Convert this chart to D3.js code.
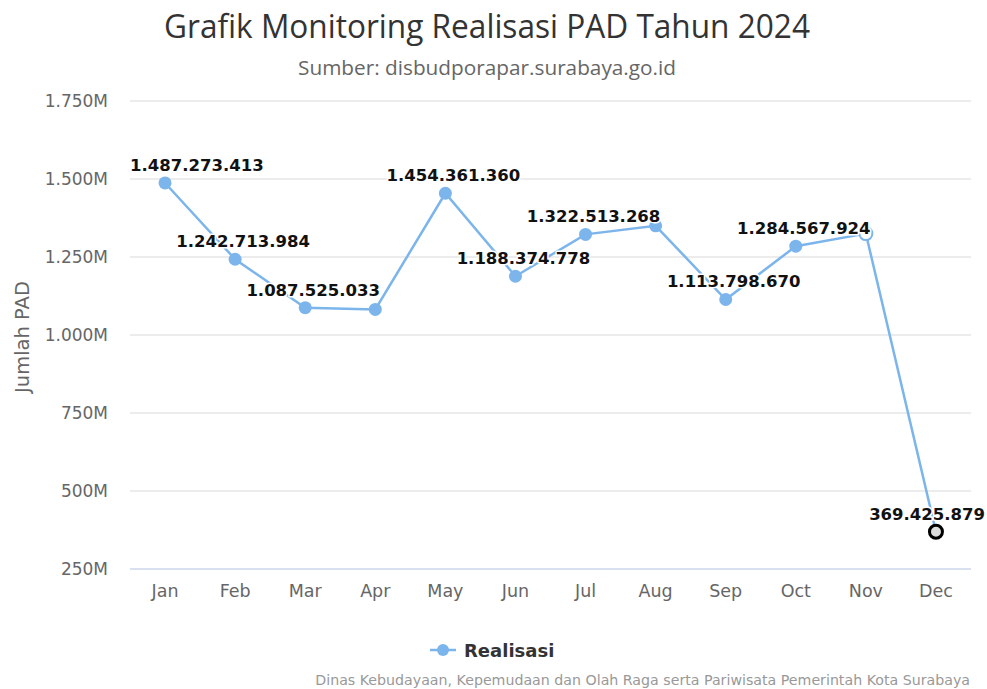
<!DOCTYPE html>
<html>
<head>
<meta charset="utf-8">
<script src="https://cdn.jsdelivr.net/npm/d3@7"></script>
<style>
  body { margin: 0; background: #fff; }
  text { font-family: "DejaVu Sans", Verdana, sans-serif; }
</style>
</head>
<body>
<div id="chart"></div>
<script>
// Data
var months = ["Jan", "Feb", "Mar", "Apr", "May", "Jun", "Jul", "Aug", "Sep", "Oct", "Nov", "Dec"];
var realisasi = [1487273413, 1242713984, 1087525033, 1082000000, 1454361360, 1188374778,
                 1322513268, 1350000000, 1113798670, 1284567924, 1325000000, 369425879];
var hiddenLabels = ["Apr", "Aug", "Nov"];
var yTicks = [250e6, 500e6, 750e6, 1000e6, 1250e6, 1500e6, 1750e6];

var width = 987, height = 689;
var margin = { top: 101, right: 16, bottom: 120, left: 130 };
var plotW = width - margin.left - margin.right;
var plotH = height - margin.top - margin.bottom;

var idLocale = d3.formatLocale({ decimal: ",", thousands: ".", grouping: [3], currency: ["Rp", ""] });
var fmtNum = idLocale.format(",.0f");

var svg = d3.select("#chart").append("svg")
  .attr("width", width)
  .attr("height", height);

// Title and subtitle
svg.append("text")
  .attr("x", 487).attr("y", 38)
  .attr("text-anchor", "middle")
  .attr("textLength", 646).attr("lengthAdjust", "spacingAndGlyphs")
  .style("font-family", "'Liberation Sans Narrow', 'Open Sans', sans-serif")
  .style("font-size", "33px")
  .style("fill", "#333")
  .text("Grafik Monitoring Realisasi PAD Tahun 2024");

svg.append("text")
  .attr("x", 487).attr("y", 75)
  .attr("text-anchor", "middle")
  .attr("textLength", 378).attr("lengthAdjust", "spacingAndGlyphs")
  .style("font-family", "'Liberation Sans Narrow', 'Open Sans', sans-serif")
  .style("font-size", "20px")
  .style("fill", "#666")
  .text("Sumber: disbudporapar.surabaya.go.id");

var g = svg.append("g")
  .attr("transform", "translate(" + margin.left + "," + margin.top + ")");

// Scales
var x = d3.scaleBand().domain(months).range([0, plotW]);
var y = d3.scaleLinear().domain([250e6, 1750e6]).range([plotH, 0]);

// Grid lines
g.selectAll(".grid")
  .data(yTicks)
  .enter().append("line")
  .attr("x1", 0).attr("x2", plotW)
  .attr("y1", function(d) { return y(d); })
  .attr("y2", function(d) { return y(d); })
  .attr("stroke", function(d, i) { return i === 0 ? "#ccd6eb" : "#e6e6e6"; })
  .attr("stroke-width", 1.5);

// Y axis
var yAxis = g.append("g")
  .call(d3.axisLeft(y).tickValues(yTicks).tickSize(0).tickPadding(22)
    .tickFormat(function(d) { return idLocale.format(",")(d / 1e6) + "M"; }));
yAxis.select(".domain").remove();
yAxis.selectAll("text")
  .attr("dy", "0.35em")
  .style("font-family", "'DejaVu Sans', sans-serif")
  .style("font-size", "17px")
  .style("fill", "#666");

// X axis
var xAxis = g.append("g")
  .attr("transform", "translate(0," + plotH + ")")
  .call(d3.axisBottom(x).tickSize(0).tickPadding(16));
xAxis.select(".domain").remove();
xAxis.selectAll("text")
  .style("font-family", "'DejaVu Sans', sans-serif")
  .style("font-size", "17.5px")
  .style("fill", "#666");

// Y axis title
svg.append("text")
  .attr("transform", "translate(29," + (margin.top + plotH / 2 + 2) + ") rotate(-90)")
  .attr("text-anchor", "middle")
  .style("font-size", "19.5px")
  .style("fill", "#666")
  .text("Jumlah PAD");

// Line
var line = d3.line()
  .x(function(d, i) { return x(months[i]) + x.bandwidth() / 2; })
  .y(function(d) { return y(d); });

g.append("path")
  .datum(realisasi)
  .attr("d", line)
  .attr("fill", "none")
  .attr("stroke", "#7cb5ec")
  .attr("stroke-width", 2.5);

// Markers
g.selectAll(".dot")
  .data(realisasi)
  .enter().append("circle")
  .attr("class", "dot")
  .attr("cx", function(d, i) { return x(months[i]) + x.bandwidth() / 2; })
  .attr("cy", function(d) { return y(d); })
  .attr("r", 6.5)
  .attr("fill", function(d, i) { return i === 11 ? "#ddd" : (i === 10 ? "#fff" : "#7cb5ec"); })
  .attr("stroke", function(d, i) { return i === 11 ? "#000" : "#7cb5ec"; })
  .attr("stroke-width", function(d, i) { return i === 11 ? 3 : (i === 10 ? 2 : 0); });

// Data labels
g.selectAll(".label")
  .data(realisasi)
  .enter().append("text")
  .filter(function(d, i) { return hiddenLabels.indexOf(months[i]) < 0; })
  .attr("class", "label")
  .attr("text-anchor", "start")
  .attr("y", function(d) { return y(d) - 12; })
  .style("font-family", "'DejaVu Sans', sans-serif")
  .style("font-weight", "bold")
  .style("font-size", "16.5px")
  .style("fill", "#111")
  .style("stroke", "#fff")
  .style("stroke-width", "3px")
  .style("stroke-linejoin", "round")
  .style("paint-order", "stroke")
  .text(function(d) { return fmtNum(d); })
  .each(function(d) {
    var i = realisasi.indexOf(d);
    var w = this.getComputedTextLength();
    var cx = x(months[i]) + x.bandwidth() / 2 + 8;
    var left = cx - w / 2;
    if (left < 0) left = 0;
    if (left + w > width - margin.left - 2) left = width - margin.left - 2 - w;
    d3.select(this).attr("x", left);
  });

// Legend
var legend = svg.append("g").attr("transform", "translate(430,650)");
legend.append("line")
  .attr("x1", 0).attr("x2", 26)
  .attr("stroke", "#7cb5ec").attr("stroke-width", 2.5);
legend.append("circle")
  .attr("cx", 13).attr("r", 6).attr("fill", "#7cb5ec");
legend.append("text")
  .attr("x", 34).attr("y", 7)
  .style("font-weight", "bold")
  .style("font-size", "18px")
  .style("fill", "#333")
  .text("Realisasi");

// Credits
svg.append("text")
  .attr("x", 970).attr("y", 685)
  .attr("text-anchor", "end")
  .style("font-size", "14.2px")
  .style("fill", "#999")
  .text("Dinas Kebudayaan, Kepemudaan dan Olah Raga serta Pariwisata Pemerintah Kota Surabaya");
</script>
</body>
</html>
